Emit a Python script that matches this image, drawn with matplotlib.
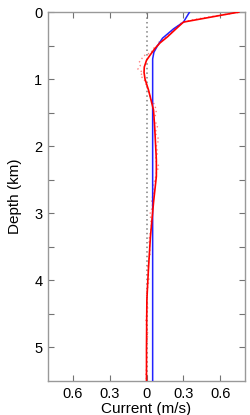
import matplotlib
matplotlib.use("Agg")
import matplotlib.pyplot as plt
from matplotlib.ticker import FuncFormatter

plt.rcParams['font.family'] = ['Liberation Sans', 'DejaVu Sans']

# Model (blue) current profile
blue_depth = [0.0, 0.15, 0.25, 0.39, 0.5, 0.6, 0.7, 1.0, 2.0, 3.0, 4.0, 5.5]
blue_vel = [0.35, 0.30, 0.22, 0.13, 0.09, 0.06, 0.05, 0.05, 0.05, 0.05, 0.05, 0.05]

# Smoothed observation (red solid)
red_depth = [0.0, 0.05, 0.15, 0.25, 0.37, 0.46, 0.54, 0.64, 0.72, 0.82, 0.9, 1.0, 1.16,
             1.3, 1.46, 1.7, 1.95, 2.2, 2.45, 2.84, 3.35, 3.7, 4.03, 4.3, 5.0, 5.5]
red_vel = [0.75, 0.60, 0.30, 0.24, 0.17, 0.11, 0.07, 0.03, 0.0, -0.018, -0.02, -0.012, 0.016,
           0.035, 0.057, 0.066, 0.073, 0.08, 0.08, 0.057, 0.032, 0.02, 0.01, 0.003, 0.0, 0.0]

# Raw observation (pale dotted)
raw_depth = [0.0, 0.03, 0.06, 0.1, 0.15, 0.2, 0.25, 0.3, 0.35, 0.4, 0.45, 0.5, 0.55, 0.6,
             0.65, 0.7, 0.75, 0.8, 0.85, 0.9, 0.95, 1.0, 1.1, 1.2, 1.3, 1.4, 1.5, 1.6,
             1.7, 1.8, 1.9, 2.0, 2.1, 2.2, 2.3, 2.4, 2.5, 2.6, 2.7, 2.8, 2.9, 3.0,
             3.2, 3.4, 3.6, 3.8, 4.0, 4.2, 4.4, 4.6, 4.8, 5.0, 5.2, 5.4, 5.5]
raw_vel = [0.78, 0.66, 0.55, 0.42, 0.29, 0.26, 0.23, 0.2, 0.16, 0.15, 0.1, 0.09, 0.05, 0.04,
           -0.02, -0.04, -0.06, -0.05, -0.07, -0.03, -0.05, -0.02, 0.0, 0.02, 0.04, 0.07,
           0.08, 0.06, 0.09, 0.07, 0.1, 0.08, 0.09, 0.07, 0.1, 0.08, 0.07, 0.05, 0.06, 0.04,
           0.05, 0.03, 0.04, 0.02, 0.03, 0.01, 0.02, 0.0, 0.01, -0.005, 0.01, 0.0, 0.005, -0.005, 0.0]

x_ticks = [-0.6, -0.3, 0.0, 0.3, 0.6]
y_ticks = [0, 1, 2, 3, 4, 5]

fig = plt.figure(figsize=(2.5, 4.15), dpi=100)
ax = fig.add_axes([0.192, 0.082, 0.788, 0.889])

ax.axvline(0, color='0.5', ls=(0, (1, 2)), lw=1.1, zorder=1)
ax.plot(raw_vel, raw_depth, color='#ff8080', ls=(0, (1, 2)), lw=1.0, zorder=2)
ax.plot(blue_vel, blue_depth, color='#2222ff', lw=1.1, zorder=3)
ax.plot(red_vel, red_depth, color='#ff0000', lw=1.2, zorder=4)

ax.set_xlim(-0.8, 0.8)
ax.set_ylim(5.5, 0)
ax.set_xticks(x_ticks)
ax.xaxis.set_major_formatter(FuncFormatter(lambda v, p: '0' if abs(v) < 1e-9 else f'{abs(v):.1f}'))
ax.set_yticks(y_ticks)
ax.set_yticks([0.5, 1.5, 2.5, 3.5, 4.5], minor=True)
ax.tick_params(which='both', direction='in', top=True, right=True, color='0.45',
               labelsize=10.5, length=4, width=0.8, pad=4)
ax.tick_params(which='minor', length=4)
for s in ax.spines.values():
    s.set_color('0.6')
    s.set_linewidth(1.0)

ax.set_xlabel('Current (m/s)', fontsize=11, labelpad=1)
ax.set_ylabel('Depth (km)', fontsize=11, labelpad=9)

fig.savefig('out.png', dpi=100)
